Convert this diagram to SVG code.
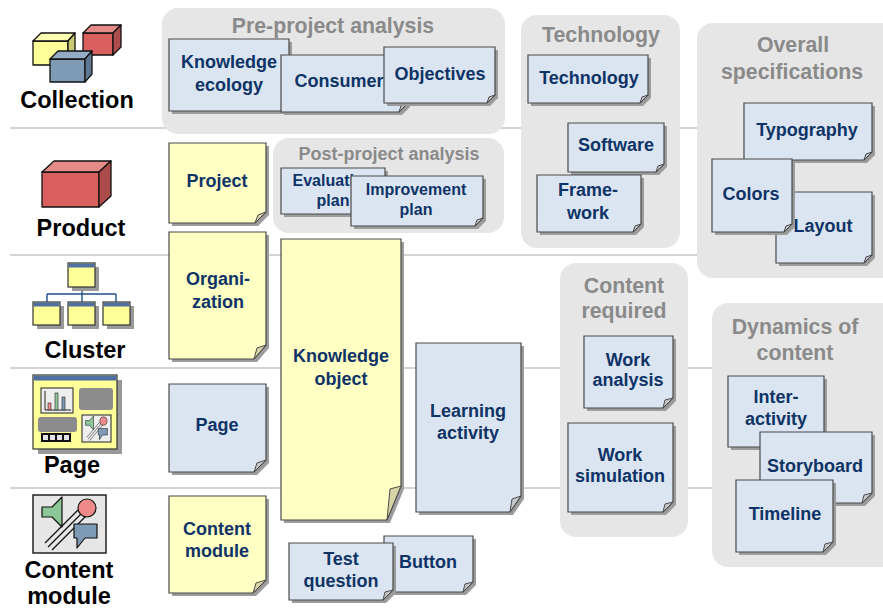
<svg xmlns="http://www.w3.org/2000/svg" xmlns:xlink="http://www.w3.org/1999/xlink" width="883" height="609" viewBox="0 0 883 609">
  <style>
    .zone { fill: #e6e6e6; }
    .zt { font-family: "Liberation Sans", Arial, sans-serif; font-weight: bold; font-size: 21.3px; fill: #8a8a8a; text-anchor: middle; }
    .lb { font-family: "Liberation Sans", Arial, sans-serif; font-weight: bold; font-size: 23.5px; fill: #000; text-anchor: middle; }
    .nt { font-family: "Liberation Sans", Arial, sans-serif; font-weight: bold; font-size: 18px; fill: #0e3366; text-anchor: middle; }
    .nts { font-size: 16px; }
    .sh { fill: #9c9c9c; }
    .blue { fill: #dbe5f1; stroke: #4a4a4a; stroke-width: 1.2; }
    .yel { fill: #ffffc4; stroke: #4a4a4a; stroke-width: 1.2; }
    .fb { fill: #c4c8cc; stroke: #4a4a4a; stroke-width: 1; }
    .fy { fill: #d8d4a6; stroke: #4a4a4a; stroke-width: 1; }
    .rule { stroke: #c6c6c6; stroke-width: 1.5; fill: none; }
    .ic { stroke: #111; stroke-width: 1.3; stroke-linejoin: round; }
    .icw { fill: #ffff99; stroke: #333; stroke-width: 1.2; }
    .ich { fill: #4f6f9f; }
    .ics { fill: #999; }
  </style>
  <defs>
    <!-- media composition: speaker, ball, speech bubble, motion lines -->
    <symbol id="media" viewBox="0 0 73 58" preserveAspectRatio="none">
      <g stroke="#111" stroke-width="1.2" fill="none">
        <line x1="12" y1="48" x2="45" y2="15"/>
        <line x1="15" y1="52" x2="49" y2="18"/>
        <line x1="19" y1="55" x2="53" y2="21"/>
      </g>
      <polygon points="9,12 19,12 29,2 29,32 19,22 9,22" fill="#8cc79a" stroke="#111" stroke-width="1.2" stroke-linejoin="round"/>
      <circle cx="54" cy="13" r="9" fill="#ef8a8a" stroke="#111" stroke-width="1.2"/>
      <path d="M41,29H64V43H52L44,53V43H41Z" fill="#7f9ab5" stroke="#111" stroke-width="1.2" stroke-linejoin="round"/>
    </symbol>
  </defs>

  <!-- separator rules between the levels -->
  <g id="rules">
    <line class="rule" x1="10" y1="128" x2="883" y2="128"/>
    <line class="rule" x1="10" y1="255" x2="883" y2="255"/>
    <line class="rule" x1="10" y1="368" x2="883" y2="368"/>
    <line class="rule" x1="10" y1="488" x2="883" y2="488"/>
  </g>

  <!-- grey zones -->
  <g id="zone-pre">
    <rect class="zone" x="162" y="8" width="343" height="126" rx="16"/>
    <text class="zt" x="333" y="33">Pre-project analysis</text>
  </g>
  <g id="zone-post">
    <rect class="zone" x="273" y="138" width="231" height="95" rx="16"/>
    <text class="zt" x="389" y="160" style="font-size:18px">Post-project analysis</text>
  </g>
  <g id="zone-tech">
    <rect class="zone" x="521" y="15" width="159" height="233" rx="16"/>
    <text class="zt" x="601" y="42">Technology</text>
  </g>
  <g id="zone-overall">
    <rect class="zone" x="697" y="23" width="200" height="255" rx="16"/>
    <text class="zt" x="793" y="52">Overall</text>
    <text class="zt" x="792" y="79">specifications</text>
  </g>
  <g id="zone-content">
    <rect class="zone" x="560" y="263" width="128" height="274" rx="16"/>
    <text class="zt" x="624" y="293">Content</text>
    <text class="zt" x="624" y="318">required</text>
  </g>
  <g id="zone-dynamics">
    <rect class="zone" x="712" y="303" width="190" height="264" rx="16"/>
    <text class="zt" x="795" y="334">Dynamics of</text>
    <text class="zt" x="795" y="360">content</text>
  </g>

  <!-- level icons and labels -->
  <g id="lvl-collection">
    <g class="ic">
      <path d="M83,33H113V55H83Z" fill="#d9605e"/>
      <path d="M83,33L91,25H121L113,33Z" fill="#e48a87"/>
      <path d="M113,33L121,25V47L113,55Z" fill="#ad4d4b"/>
      <path d="M33,41H68V65H33Z" fill="#ffff99"/>
      <path d="M33,41L41,33H75L68,41Z" fill="#ffffb3"/>
      <path d="M68,41L75,33V57L68,65Z" fill="#c9c974"/>
      <path d="M50,59H85V82H50Z" fill="#7f9ab5"/>
      <path d="M50,59L58,51H92L85,59Z" fill="#93abc3"/>
      <path d="M85,59L92,51V74L85,82Z" fill="#5f7892"/>
    </g>
    <text class="lb" x="77" y="108">Collection</text>
  </g>
  <g id="lvl-product">
    <g class="ic">
      <path d="M42,172H99V207H42Z" fill="#d9605e"/>
      <path d="M42,172L54,161H111L99,172Z" fill="#e48a87"/>
      <path d="M99,172L111,161V196L99,207Z" fill="#ad4d4b"/>
    </g>
    <text class="lb" x="81" y="236">Product</text>
  </g>
  <g id="lvl-cluster">
    <g stroke="#1f4e8a" stroke-width="1.4" fill="none">
      <path d="M82,287V302M47,294H116M47,294V302M116,294V302"/>
    </g>
    <rect class="ics" x="72" y="267" width="27" height="24"/>
    <rect class="icw" x="68" y="263" width="27" height="24"/>
    <rect class="ich" x="68.5" y="263.5" width="26" height="4"/>
    <rect class="ics" x="37" y="306" width="27" height="23"/>
    <rect class="ics" x="72" y="306" width="27" height="23"/>
    <rect class="ics" x="107" y="306" width="27" height="23"/>
    <rect class="icw" x="33" y="302" width="27" height="23"/>
    <rect class="icw" x="68" y="302" width="27" height="23"/>
    <rect class="icw" x="103" y="302" width="27" height="23"/>
    <rect class="ich" x="33.5" y="302.5" width="26" height="4"/>
    <rect class="ich" x="68.5" y="302.5" width="26" height="4"/>
    <rect class="ich" x="103.5" y="302.5" width="26" height="4"/>
    <text class="lb" x="85" y="358">Cluster</text>
  </g>
  <g id="lvl-page">
    <rect class="ics" x="38" y="380" width="84" height="74"/>
    <rect class="icw" x="33" y="375" width="84" height="74"/>
    <rect class="ich" x="33.5" y="375.5" width="83" height="5"/>
    <rect x="41" y="388" width="32" height="25" fill="#eeeeee" stroke="#222" stroke-width="1"/>
    <path d="M45,391V410H71" stroke="#222" stroke-width="1" fill="none"/>
    <rect x="48" y="403" width="3" height="7" fill="#ef8a8a" stroke="#222" stroke-width="0.6"/>
    <rect x="55" y="393" width="3" height="17" fill="#8cc79a" stroke="#222" stroke-width="0.6"/>
    <rect x="62" y="397" width="3" height="13" fill="#7f9ab5" stroke="#222" stroke-width="0.6"/>
    <rect x="79" y="388" width="34" height="22" rx="3" fill="#8c8c8c"/>
    <rect x="38" y="417" width="39" height="15" rx="3" fill="#8c8c8c"/>
    <rect x="41" y="433" width="30" height="9" fill="#111"/>
    <g fill="#e6e6e6">
      <rect x="43" y="435" width="5" height="5"/>
      <rect x="50" y="435" width="5" height="5"/>
      <rect x="57" y="435" width="5" height="5"/>
      <rect x="64" y="435" width="5" height="5"/>
    </g>
    <rect x="82" y="415" width="29" height="27" fill="#eeeeee" stroke="#222" stroke-width="1"/>
    <use xlink:href="#media" href="#media" x="82" y="415" width="29" height="27"/>
    <text class="lb" x="72" y="473">Page</text>
  </g>
  <g id="lvl-module">
    <rect x="33" y="495" width="73" height="58" fill="#e6e6e6" stroke="#222" stroke-width="1.5"/>
    <use xlink:href="#media" href="#media" x="33" y="495" width="73" height="58"/>
    <text class="lb" x="69" y="578">Content</text>
    <text class="lb" x="69" y="604">module</text>
  </g>

  <!-- notes -->
  <g id="n-knowledge-ecology">
    <path class="sh" transform="translate(3,3)" d="M169,39H289V103L281,111H169Z"/>
    <path class="blue" d="M169,39H289V103L281,111H169Z"/>
    <path class="fb" d="M289,103L281,111L283,105Z"/>
    <text class="nt" x="229" y="68">Knowledge</text>
    <text class="nt" x="229" y="91">ecology</text>
  </g>
  <g id="n-consumer">
    <path class="sh" transform="translate(3,3)" d="M281,55H407V104L399,112H281Z"/>
    <path class="blue" d="M281,55H407V104L399,112H281Z"/>
    <path class="fb" d="M407,104L399,112L401,106Z"/>
    <text class="nt" x="339" y="87">Consumer</text>
  </g>
  <g id="n-objectives">
    <path class="sh" transform="translate(3,3)" d="M384,47H495V95L487,103H384Z"/>
    <path class="blue" d="M384,47H495V95L487,103H384Z"/>
    <path class="fb" d="M495,95L487,103L489,97Z"/>
    <text class="nt" x="440" y="80">Objectives</text>
  </g>
  <g id="n-evaluation">
    <path class="sh" transform="translate(3,3)" d="M281,168H385V206L377,214H281Z"/>
    <path class="blue" d="M281,168H385V206L377,214H281Z"/>
    <path class="fb" d="M385,206L377,214L379,208Z"/>
    <text class="nt nts" x="333" y="186">Evaluation</text>
    <text class="nt nts" x="333" y="206">plan</text>
  </g>
  <g id="n-improvement">
    <path class="sh" transform="translate(3,3)" d="M351,176H483V218L475,226H351Z"/>
    <path class="blue" d="M351,176H483V218L475,226H351Z"/>
    <path class="fb" d="M483,218L475,226L477,220Z"/>
    <text class="nt nts" x="416" y="195">Improvement</text>
    <text class="nt nts" x="416" y="215">plan</text>
  </g>
  <g id="n-project">
    <path class="sh" transform="translate(3,3)" d="M169,143H266V212L255,223H169Z"/>
    <path class="yel" d="M169,143H266V212L255,223H169Z"/>
    <path class="fy" d="M266,212L255,223L258,215Z"/>
    <text class="nt" x="217" y="187">Project</text>
  </g>
  <g id="n-organization">
    <path class="sh" transform="translate(3,3)" d="M169,232H266V345L254,359H169Z"/>
    <path class="yel" d="M169,232H266V345L254,359H169Z"/>
    <path class="fy" d="M266,345L254,359L257,348Z"/>
    <text class="nt" x="218" y="285">Organi-</text>
    <text class="nt" x="218" y="308">zation</text>
  </g>
  <g id="n-knowledge-object">
    <path class="sh" transform="translate(3,3)" d="M281,239H401V486L387,520H281Z"/>
    <path class="yel" d="M281,239H401V486L387,520H281Z"/>
    <path class="fy" d="M401,486L387,520L390,489Z"/>
    <text class="nt" x="341" y="362">Knowledge</text>
    <text class="nt" x="341" y="385">object</text>
  </g>
  <g id="n-learning-activity">
    <path class="sh" transform="translate(3,3)" d="M416,343H521V496L510,512H416Z"/>
    <path class="blue" d="M416,343H521V496L510,512H416Z"/>
    <path class="fb" d="M521,496L510,512L512,499Z"/>
    <text class="nt" x="468" y="417">Learning</text>
    <text class="nt" x="468" y="439">activity</text>
  </g>
  <g id="n-page">
    <path class="sh" transform="translate(3,3)" d="M169,384H266V460L254,472H169Z"/>
    <path class="blue" d="M169,384H266V460L254,472H169Z"/>
    <path class="fb" d="M266,460L254,472L257,463Z"/>
    <text class="nt" x="217" y="431">Page</text>
  </g>
  <g id="n-content-module">
    <path class="sh" transform="translate(3,3)" d="M169,496H266V580L253,593H169Z"/>
    <path class="yel" d="M169,496H266V580L253,593H169Z"/>
    <path class="fy" d="M266,580L253,593L256,583Z"/>
    <text class="nt" x="217" y="535">Content</text>
    <text class="nt" x="217" y="557">module</text>
  </g>
  <g id="n-button">
    <path class="sh" transform="translate(3,3)" d="M384,536H473V582L463,592H384Z"/>
    <path class="blue" d="M384,536H473V582L463,592H384Z"/>
    <path class="fb" d="M473,582L463,592L465,584Z"/>
    <text class="nt" x="428" y="568">Button</text>
  </g>
  <g id="n-test-question">
    <path class="sh" transform="translate(3,3)" d="M289,543H393V590L383,600H289Z"/>
    <path class="blue" d="M289,543H393V590L383,600H289Z"/>
    <path class="fb" d="M393,590L383,600L385,592Z"/>
    <text class="nt" x="341" y="565">Test</text>
    <text class="nt" x="341" y="587">question</text>
  </g>
  <g id="n-technology">
    <path class="sh" transform="translate(3,3)" d="M528,55H648V95L640,103H528Z"/>
    <path class="blue" d="M528,55H648V95L640,103H528Z"/>
    <path class="fb" d="M648,95L640,103L642,97Z"/>
    <text class="nt" x="589" y="84">Technology</text>
  </g>
  <g id="n-software">
    <path class="sh" transform="translate(3,3)" d="M568,123H664V164L656,172H568Z"/>
    <path class="blue" d="M568,123H664V164L656,172H568Z"/>
    <path class="fb" d="M664,164L656,172L658,166Z"/>
    <text class="nt" x="616" y="151">Software</text>
  </g>
  <g id="n-framework">
    <path class="sh" transform="translate(3,3)" d="M537,175H641V224L633,232H537Z"/>
    <path class="blue" d="M537,175H641V224L633,232H537Z"/>
    <path class="fb" d="M641,224L633,232L635,226Z"/>
    <text class="nt" x="588" y="196">Frame-</text>
    <text class="nt" x="588" y="219">work</text>
  </g>
  <g id="n-typography">
    <path class="sh" transform="translate(3,3)" d="M744,103H872V152L864,160H744Z"/>
    <path class="blue" d="M744,103H872V152L864,160H744Z"/>
    <path class="fb" d="M872,152L864,160L866,154Z"/>
    <text class="nt" x="807" y="136">Typography</text>
  </g>
  <g id="n-layout">
    <path class="sh" transform="translate(3,3)" d="M776,192H872V255L864,263H776Z"/>
    <path class="blue" d="M776,192H872V255L864,263H776Z"/>
    <path class="fb" d="M872,255L864,263L866,257Z"/>
    <text class="nt" x="823" y="232">Layout</text>
  </g>
  <g id="n-colors">
    <path class="sh" transform="translate(3,3)" d="M712,159H792V224L784,232H712Z"/>
    <path class="blue" d="M712,159H792V224L784,232H712Z"/>
    <path class="fb" d="M792,224L784,232L786,226Z"/>
    <text class="nt" x="751" y="200">Colors</text>
  </g>
  <g id="n-work-analysis">
    <path class="sh" transform="translate(3,3)" d="M584,336H673V398L663,408H584Z"/>
    <path class="blue" d="M584,336H673V398L663,408H584Z"/>
    <path class="fb" d="M673,398L663,408L665,400Z"/>
    <text class="nt" x="628" y="366">Work</text>
    <text class="nt" x="628" y="386">analysis</text>
  </g>
  <g id="n-work-simulation">
    <path class="sh" transform="translate(3,3)" d="M568,423H673V502L663,512H568Z"/>
    <path class="blue" d="M568,423H673V502L663,512H568Z"/>
    <path class="fb" d="M673,502L663,512L665,504Z"/>
    <text class="nt" x="620" y="461">Work</text>
    <text class="nt" x="620" y="482">simulation</text>
  </g>
  <g id="n-interactivity">
    <path class="sh" transform="translate(3,3)" d="M728,376H824V439L816,447H728Z"/>
    <path class="blue" d="M728,376H824V439L816,447H728Z"/>
    <path class="fb" d="M824,439L816,447L818,441Z"/>
    <text class="nt" x="776" y="403">Inter-</text>
    <text class="nt" x="776" y="425">activity</text>
  </g>
  <g id="n-storyboard">
    <path class="sh" transform="translate(3,3)" d="M760,432H872V493L862,503H760Z"/>
    <path class="blue" d="M760,432H872V493L862,503H760Z"/>
    <path class="fb" d="M872,493L862,503L864,495Z"/>
    <text class="nt" x="815" y="472">Storyboard</text>
  </g>
  <g id="n-timeline">
    <path class="sh" transform="translate(3,3)" d="M736,480H833V542L823,552H736Z"/>
    <path class="blue" d="M736,480H833V542L823,552H736Z"/>
    <path class="fb" d="M833,542L823,552L825,544Z"/>
    <text class="nt" x="785" y="520">Timeline</text>
  </g>
</svg>
